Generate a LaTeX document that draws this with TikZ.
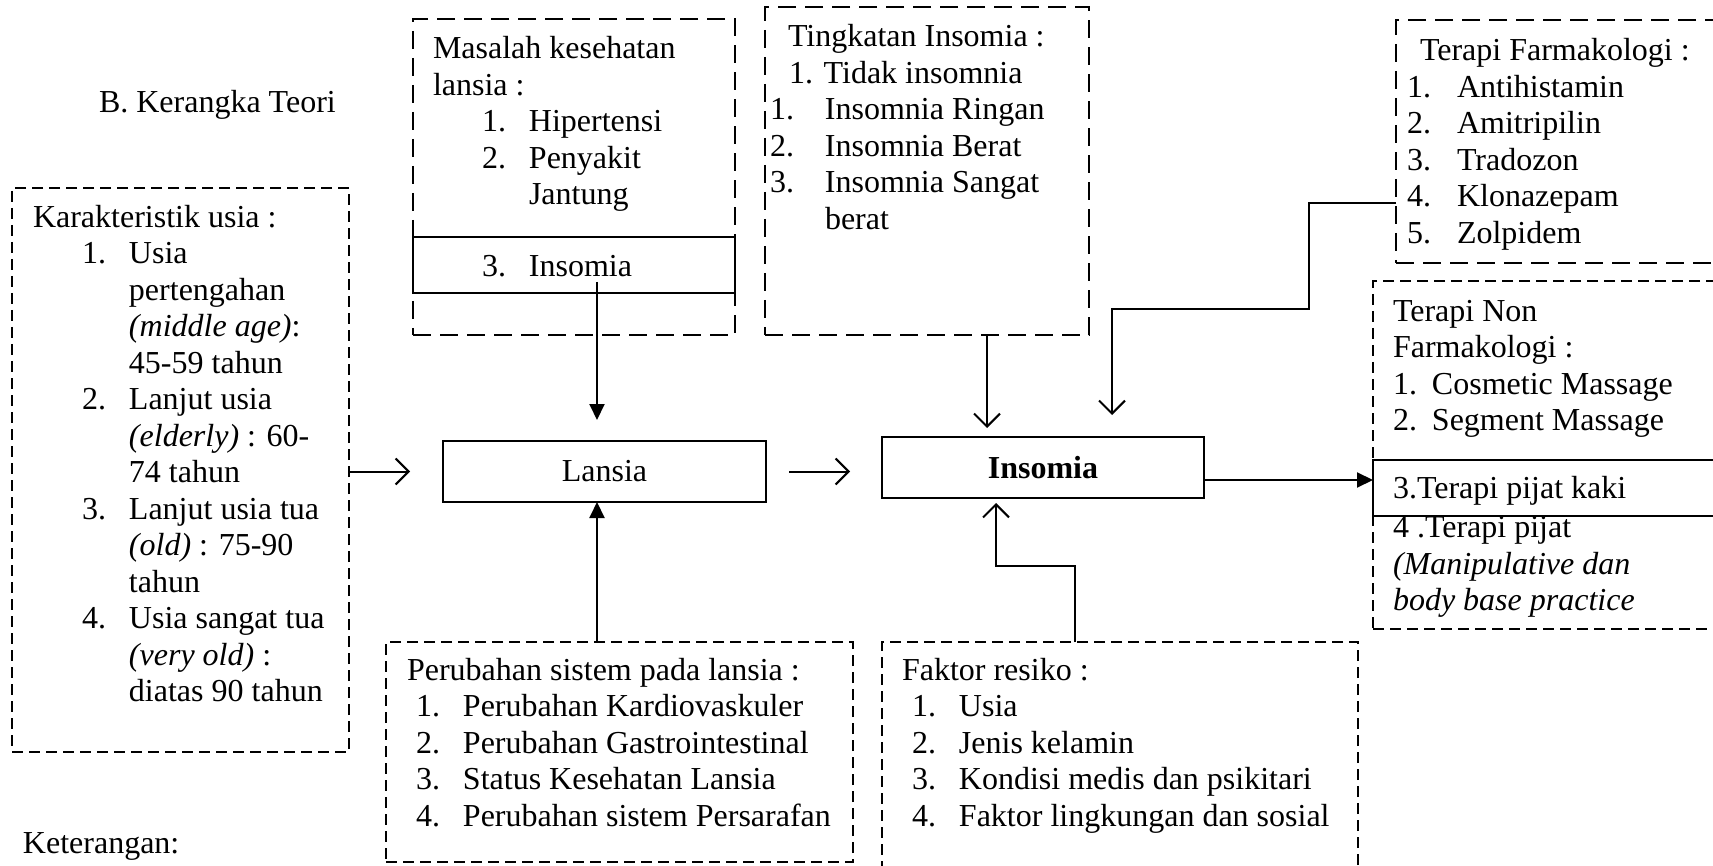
\documentclass[tikz,border=0pt]{standalone}
\usepackage{fontspec}
\setmainfont{Liberation Serif}
\usetikzlibrary{arrows.meta,calc}
\begin{document}
\begin{tikzpicture}[x=1pt,y=-1pt,
  every node/.style={font=\fontsize{32}{36.5}\selectfont, inner sep=0pt, outer sep=0pt},
  txt/.style={anchor=base west, align=left},
  mtxt/.style={anchor=north west, align=left, yshift=25.55pt},
  dboxl/.style={draw, line width=1.5pt, dash pattern=on 18pt off 9pt, anchor=north west},
  dboxs/.style={draw, line width=1.5pt, dash pattern=on 11pt off 6pt, anchor=north west},
  sbox/.style={draw, line width=2.5pt, anchor=north west},
  conn/.style={line width=2pt},
  opentip/.style={-{Straight Barb[length=13pt,width=26pt]}},
  filltip/.style={-{Triangle[length=16pt,width=15pt]}},
]
\useasboundingbox (0,0) rectangle (1713,866);

% title and legend
\node[txt] (title) at (99,113) {B. Kerangka Teori};
\node[txt] (ket) at (23,853) {Keterangan:};

% boxes
\node[dboxs, minimum width=337pt, minimum height=564pt] (kar) at (12,188) {};
\node[dboxl, minimum width=322pt, minimum height=316pt] (mas) at (413,19) {};
\node[sbox, minimum width=322pt, minimum height=56pt] (masband) at (413,237) {};
\node[dboxl, minimum width=324pt, minimum height=328pt] (ting) at (765,7) {};
\node[dboxl, minimum width=420pt, minimum height=243pt] (farm) at (1396,20) {};
\node[dboxs, minimum width=440pt, minimum height=348pt] (nonfarm) at (1373,281) {};
\node[sbox, minimum width=440pt, minimum height=56pt] (nfband) at (1373,460) {};
\node[sbox, minimum width=323pt, minimum height=61pt] (lansia) at (443,441) {Lansia};
\node[sbox, minimum width=322pt, minimum height=61pt] (insomia) at (882,437) {\bfseries Insomia};
\node[dboxs, minimum width=467pt, minimum height=220pt] (per) at (386,642) {};
\node[dboxs, minimum width=476pt, minimum height=240pt] (fak) at (882,642) {};

% texts (position = baseline of first line)
\node[mtxt] (kartxt) at (33,227) {\strut Karakteristik usia :\\
\hspace*{49pt}\makebox[47pt][l]{1.}Usia\\
\hspace*{96pt}pertengahan\\
\hspace*{96pt}\textit{(middle age)}:\\
\hspace*{96pt}45-59 tahun\\
\hspace*{49pt}\makebox[47pt][l]{2.}Lanjut usia\\
\hspace*{96pt}\textit{(elderly)} : 60-\\
\hspace*{96pt}74 tahun\\
\hspace*{49pt}\makebox[47pt][l]{3.}Lanjut usia tua\\
\hspace*{96pt}\textit{(old)} : 75-90\\
\hspace*{96pt}tahun\\
\hspace*{49pt}\makebox[47pt][l]{4.}Usia sangat tua\\
\hspace*{96pt}\textit{(very old)} :\\
\hspace*{96pt}diatas 90 tahun};

\node[mtxt] (mastxt) at (433,59) {\strut Masalah kesehatan\\
lansia :\\
\hspace*{49pt}\makebox[47pt][l]{1.}Hipertensi\\
\hspace*{49pt}\makebox[47pt][l]{2.}Penyakit\\
\hspace*{96pt}Jantung};
\node[txt] (masins) at (482,277) {\makebox[47pt][l]{3.}Insomia};

\node[mtxt] (tingtxt) at (770,47) {\strut\hspace*{18pt}Tingkatan Insomia :\\
\hspace*{19pt}1. Tidak insomnia\\
\makebox[55pt][l]{1.}Insomnia Ringan\\
\makebox[55pt][l]{2.}Insomnia Berat\\
\makebox[55pt][l]{3.}Insomnia Sangat\\
\hspace*{55pt}berat};

\node[mtxt] (farmtxt) at (1407,61) {\strut\hspace*{13pt}Terapi Farmakologi :\\
\makebox[50pt][l]{1.}Antihistamin\\
\makebox[50pt][l]{2.}Amitripilin\\
\makebox[50pt][l]{3.}Tradozon\\
\makebox[50pt][l]{4.}Klonazepam\\
\makebox[50pt][l]{5.}Zolpidem};

\node[mtxt] (nftxt) at (1393,321) {\strut Terapi Non\\
Farmakologi :\\
\makebox[39pt][l]{1.}Cosmetic Massage\\
\makebox[39pt][l]{2.}Segment Massage};
\node[mtxt] (nftxt2) at (1393,498) {\strut 3.Terapi pijat kaki\\[3pt]
4 .Terapi pijat\\
\textit{(Manipulative dan}\\
\textit{body base practice}};

\node[mtxt] (pertxt) at (407,680) {\strut Perubahan sistem pada lansia :\\
\hspace*{9pt}\makebox[47pt][l]{1.}Perubahan Kardiovaskuler\\
\hspace*{9pt}\makebox[47pt][l]{2.}Perubahan Gastrointestinal\\
\hspace*{9pt}\makebox[47pt][l]{3.}Status Kesehatan Lansia\\
\hspace*{9pt}\makebox[47pt][l]{4.}Perubahan sistem Persarafan};

\node[mtxt] (faktxt) at (902,680) {\strut Faktor resiko :\\
\hspace*{10pt}\makebox[47pt][l]{1.}Usia\\
\hspace*{10pt}\makebox[47pt][l]{2.}Jenis kelamin\\
\hspace*{10pt}\makebox[47pt][l]{3.}Kondisi medis dan psikitari\\
\hspace*{10pt}\makebox[47pt][l]{4.}Faktor lingkungan dan sosial};

% connector coordinates
\coordinate (kl) at (410,471.5);
\coordinate (li1) at (789,471.5);
\coordinate (li2) at (850,471.5);
\coordinate (ms) at (597,282);
\coordinate (me) at (597,420);
\coordinate (pcol) at (597,0);
\coordinate (tcol) at (987,0);
\coordinate (te) at (987,428);
\coordinate (fs) at (1396,203);
\coordinate (fm) at (1309,309);
\coordinate (fe) at (1112,415);
\coordinate (ks) at (1075,642);
\coordinate (km) at (996,566);
\coordinate (ke) at (996,503);
\coordinate (nrow) at (0,480);

% connectors
\draw[conn,opentip] (kar.east |- kl) -- (kl);
\draw[conn,opentip] (li1) -- (li2);
\draw[conn,filltip] (ms) -- (me);
\draw[conn,filltip] (per.north -| pcol) -- (lansia.south -| pcol);
\draw[conn,opentip] (ting.south -| tcol) -- (te);
\draw[conn,opentip] (fs) -| (fm) -| (fe);
\draw[conn,opentip] (ks) |- (km) -- (ke);
\draw[conn,filltip] (insomia.east |- nrow) -- (nonfarm.west |- nrow);
\end{tikzpicture}
\end{document}
